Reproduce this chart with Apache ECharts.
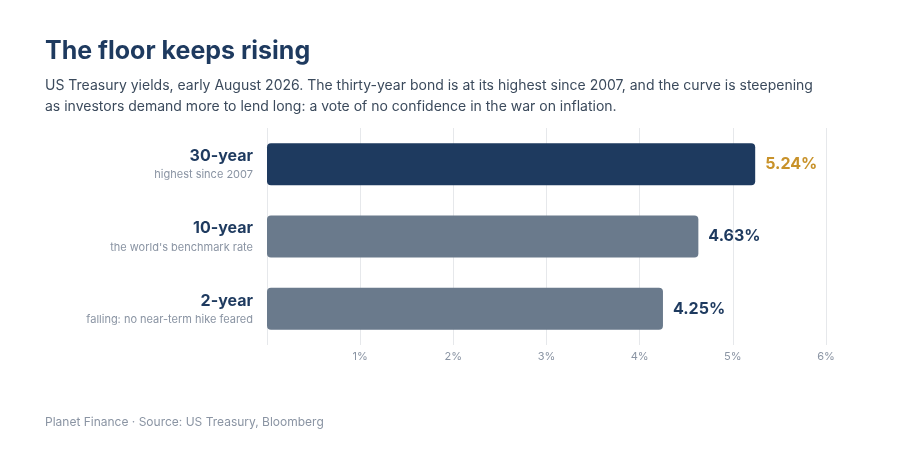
<!DOCTYPE html>
<html><head><meta charset="utf-8">
<script src="https://cdn.jsdelivr.net/npm/echarts@6/dist/echarts.min.js"></script>
<style>html,body{margin:0;padding:0;background:#fff}#c{width:906px;height:456px}</style>
</head><body><div id="c"></div>
<script>
const categories = ['2-year','10-year','30-year'];
const subtitles = ['falling: no near-term hike feared',"the world's benchmark rate",'highest since 2007'];
const yields = [4.25, 4.63, 5.24];
const barColors = ['#6a7a8c','#6a7a8c','#1e3a5f'];
const labelColors = ['#1e3a5f','#1e3a5f','#c8922a'];
const xTicks = [0,1,2,3,4,5,6];
const F = 'Inter, "Open Sans", sans-serif';
const chart = echarts.init(document.getElementById('c'));
chart.setOption({
  animation:false,
  textStyle:{fontFamily:F},
  title:[
    {text:'The floor keeps rising',left:40,top:34,textStyle:{fontSize:25,fontWeight:'bold',color:'#1e3a5f',fontFamily:F}},
    {text:'US Treasury yields, early August 2026. The thirty-year bond is at its highest since 2007, and the curve is steepening\nas investors demand more to lend long: a vote of no confidence in the war on inflation.',left:40,top:70,textStyle:{fontSize:14,fontWeight:'normal',color:'#3b4a5c',lineHeight:21,fontFamily:F}},
    {text:'Planet Finance · Source: US Treasury, Bloomberg',left:40,top:411,textStyle:{fontSize:12,fontWeight:'normal',color:'#8a94a3',fontFamily:F}}
  ],
  grid:{left:267,right:80,top:128,bottom:111},
  xAxis:{type:'value',min:xTicks[0],max:xTicks[xTicks.length-1],interval:1,
    axisLine:{show:false},axisTick:{show:false},
    axisLabel:{color:'#8a94a3',fontSize:11,margin:6,formatter:v=>v===0?'':v+'%'},
    splitLine:{lineStyle:{color:'#e6e8eb'}}},
  yAxis:{type:'category',data:categories,axisLine:{show:false},axisTick:{show:false},
    axisLabel:{margin:14,align:'right',formatter:(v,i)=>'{a|'+v+'}\n{b|'+subtitles[i]+'}',
      rich:{a:{fontSize:16,fontWeight:'bold',color:'#1e3a5f',lineHeight:22,align:'right',fontFamily:F},
            b:{fontSize:11,color:'#8a94a3',lineHeight:16,align:'right',fontFamily:F}}}},
  series:[{type:'bar',barWidth:42,
    data:yields.map((v,i)=>({value:v,itemStyle:{color:barColors[i],borderRadius:4},
      label:{color:labelColors[i]}})),
    label:{show:true,position:'right',distance:10,fontSize:16,fontWeight:'bold',formatter:p=>p.value.toFixed(2)+'%'}}]
});
</script></body></html>
